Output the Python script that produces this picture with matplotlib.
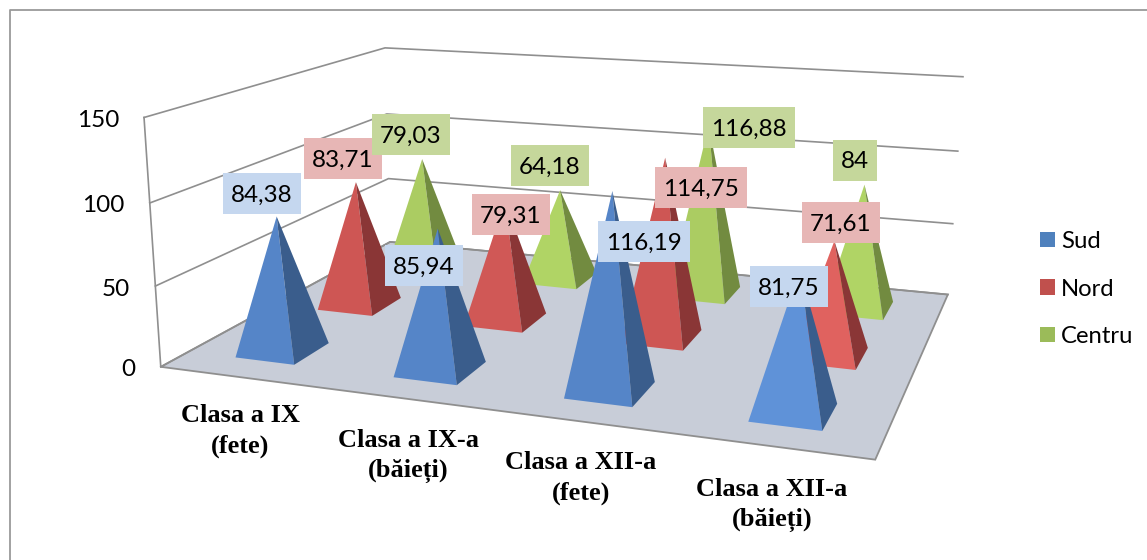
import matplotlib.pyplot as plt
import numpy as np
from matplotlib.patches import Polygon, Rectangle, Patch

plt.rcParams["font.family"] = ["Lato", "DejaVu Sans"]

# Data
categories = ["Clasa a IX\n(fete)", "Clasa a IX-a\n(băieți)", "Clasa a XII-a\n(fete)", "Clasa a XII-a\n(băieți)"]
series = ["Sud", "Nord", "Centru"]
sud = [84.38, 85.94, 116.19, 81.75]
nord = [83.71, 79.31, 114.75, 71.61]
centru = [79.03, 64.18, 116.88, 84]
z_ticks = [0, 50, 100, 150]

# Styles
front_col = [
    ["#5585C8", "#5585C8", "#5585C8", "#5F92D8"],
    ["#CE5654", "#D05856", "#CE5654", "#E0625F"],
    ["#ABCC62", "#B0D465", "#ABCC62", "#B0D465"],
]
side_col = ["#3A5D8C", "#8A3636", "#728B40"]
box_col = ["#C5D7EF", "#E7B6B5", "#C5D79B"]
legend_col = ["#4F81BD", "#C0504D", "#9BBB59"]
grid_col = "#8F8F8F"
hx, hy = 0.19, 0.21

# Label box centres in pixels, moved by hand in the original
label_xy = [
    [(262, 193), (424, 265), (644, 241), (789, 286)],
    [(343, 158), (511, 214), (701, 187), (841, 222)],
    [(411, 134), (550, 165), (749, 127), (855, 160)],
]
cat_xy = [(240, 431), (408, 456), (581, 478), (772, 505)]

# Fit a perspective camera on the box corners (x, depth, z) -> pixel
corners = [
    ((0, 0, 0), (161, 367)), ((4, 0, 0), (875, 460)),
    ((4, 3, 0), (948, 294)), ((0, 3, 0), (390, 242)),
    ((0, 0, 150), (144, 117)), ((0, 3, 150), (385, 48)),
    ((4, 3, 150), (963, 77)),
]
A, b = [], []
for (X, Y, Z), (u, v) in corners:
    A.append([X, Y, Z, 1, 0, 0, 0, 0, -u * X, -u * Y, -u * Z])
    A.append([0, 0, 0, 0, X, Y, Z, 1, -v * X, -v * Y, -v * Z])
    b += [u, v]
P = np.linalg.lstsq(np.array(A, float), np.array(b, float), rcond=None)[0]
P = np.append(P, 1).reshape(3, 4)


def proj(x, y, z):
    p = P @ np.array([x, y, z, 1.0])
    return p[0] / p[2], p[1] / p[2]


fig = plt.figure(figsize=(11.47, 5.6), dpi=100)
ax = fig.add_axes([0, 0, 1, 1])
ax.set_xlim(0, 1147)
ax.set_ylim(560, 0)
ax.axis("off")

# Outer frame
ax.plot([10, 10, 1147], [560, 10, 10], color="#9A9A9A", lw=1.3)

# Floor
floor = [proj(0, 0, 0), proj(4, 0, 0), proj(4, 3, 0), proj(0, 3, 0)]
ax.add_patch(Polygon(floor, closed=True, fc="#C8CDD8", ec=grid_col, lw=1.3, zorder=1))

# Walls and grid
for t in z_ticks:
    pts = [proj(0, 0, t), proj(0, 3, t), proj(4, 3, t)]
    ax.plot(*zip(*pts), color=grid_col, lw=1.2, zorder=1.5)
    u, v = proj(0, 0, t)
    ax.text(u - 25, v + 3, str(t), ha="right", va="center", fontsize=17.5, color="black")
ax.plot(*zip(proj(0, 0, 0), proj(0, 0, 150)), color=grid_col, lw=1.2, zorder=1.5)

# Pyramids, back row first
values = [sud, nord, centru]
for j in [2, 1, 0]:
    for i, val in enumerate(values[j]):
        cx, cy = i + 0.5, j + 0.5
        fl = proj(cx - hx, cy - hy, 0)
        fr = proj(cx + hx, cy - hy, 0)
        br = proj(cx + hx, cy + hy, 0)
        top = proj(cx, cy, val)
        ax.add_patch(Polygon([fl, fr, top], closed=True, fc=front_col[j][i], ec="none", zorder=3 + (2 - j)))
        ax.add_patch(Polygon([fr, br, top], closed=True, fc=side_col[j], ec="none", zorder=3 + (2 - j)))

# Data labels
fig.canvas.draw()
rend = fig.canvas.get_renderer()
for j in range(3):
    for i, val in enumerate(values[j]):
        s = f"{val:.2f}".replace(".", ",") if val != int(val) else str(int(val))
        lx, ly = label_xy[j][i]
        txt = ax.text(lx, ly, s, ha="center", va="center_baseline", fontsize=17.5, color="black", zorder=11)
        w = txt.get_window_extent(rend).width + 16
        ax.add_patch(Rectangle((lx - w / 2, ly - 20.5), w, 41, fc=box_col[j], ec="none", zorder=10))

# Category labels
for (cx, cy), name in zip(cat_xy, categories):
    ax.text(cx, cy, name, ha="center", va="center", family="Liberation Serif", weight="bold",
            fontsize=19, linespacing=1.38, color="black")

# Legend
handles = [Patch(fc=c, ec="none", label=s) for c, s in zip(legend_col, series)]
ax.legend(handles=handles, loc="center left", bbox_to_anchor=(1040 / 1147, 1 - 289 / 560), frameon=False,
          fontsize=17.2, handlelength=0.63, handleheight=0.63, handletextpad=0.25, labelspacing=1.11,
          borderpad=0, borderaxespad=0)

fig.savefig("out.png", dpi=100)
